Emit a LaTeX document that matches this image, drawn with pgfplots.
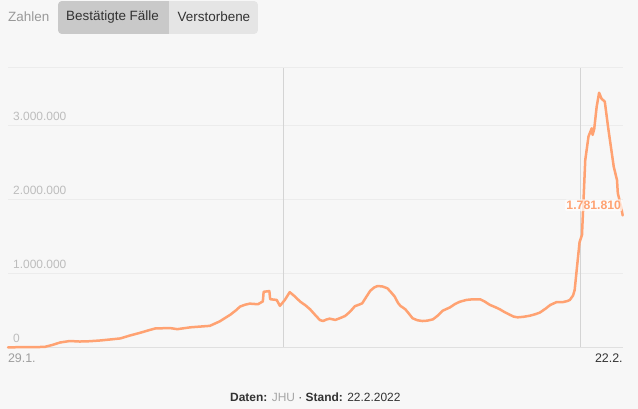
\documentclass[border=0pt]{standalone}
\usepackage{pgfplots}
\pgfplotsset{compat=1.18}
\usepackage{fontspec}
\setmainfont{Liberation Sans}
\definecolor{bg}{HTML}{F7F7F7}
\definecolor{gridc}{HTML}{ECECEC}
\definecolor{vline}{HTML}{D4D4D4}
\definecolor{tickc}{HTML}{BDBDBD}
\definecolor{linec}{HTML}{FFA272}
\definecolor{darkt}{HTML}{333333}
\definecolor{btndark}{HTML}{C9C9C9}
\definecolor{btnlight}{HTML}{E5E5E5}
\begin{document}
\begin{tikzpicture}
\fill[bg] (0bp,0bp) rectangle (638bp,409bp);
% buttons
\node[anchor=west,inner sep=0,font=\fontsize{13.5}{14}\selectfont,text=black!40] at (8bp,392bp) {Zahlen};
\begin{scope}
\clip[rounded corners=4bp] (58bp,375bp) rectangle (258bp,408bp);
\fill[btnlight] (58bp,375bp) rectangle (258bp,408bp);
\fill[btndark] (58bp,375bp) rectangle (169bp,408bp);
\end{scope}
\node[anchor=west,inner sep=0,font=\fontsize{13.5}{14}\selectfont,text=darkt] at (66bp,392bp) {Bestätigte Fälle};
\node[anchor=west,inner sep=0,font=\fontsize{13.5}{14}\selectfont,text=darkt] at (177.5bp,392bp) {Verstorbene};
\begin{axis}[
  at={(8bp,61.7bp)}, anchor=south west,
  scale only axis, width=614.7bp, height=280bp,
  xmin=0, xmax=755, ymin=0, ymax=3784000,
  scaled y ticks=false, scaled x ticks=false,
  axis line style={draw=none},
  major tick length=0pt,
  ytick={0,1000000,2000000,3000000},
  yticklabels={0,1.000.000,2.000.000,3.000.000},
  yticklabel style={anchor=south west, inner sep=0pt, xshift=5bp, yshift=4.5bp, text=tickc, font=\fontsize{12}{13}\selectfont},
  ymajorgrids=true,
  grid style={gridc, line width=1bp},
  extra y ticks={3784000}, extra y tick labels={},
  xtick={0,755},
  xticklabels={\makebox[0pt][l]{\textcolor{black!38}{29.1.}},\makebox[0pt][r]{\textcolor{darkt}{22.2.}}},
  xticklabel style={anchor=north, inner sep=0pt, yshift=-6bp, font=\fontsize{12.5}{13}\selectfont},
  extra x ticks={338,703}, extra x tick labels={},
  extra x tick style={grid=major, major grid style={vline, line width=0.9bp}},
  clip=false,
]
\draw[black!12, line width=1.2bp] (axis cs:0,0) -- (axis cs:755,0);
\addplot[linec, line width=2.5bp, line join=round, line cap=round] table {
0 0
27 2000
45 5000
54 30000
64 65000
76 85000
88 78000
100 82000
113 92000
125 105000
138 120000
150 160000
162 195000
174 234000
181 255000
199 260000
208 245000
224 270000
248 290000
260 350000
273 440000
280 500000
285 550000
291 575000
297 590000
307 582000
313 620000
314 750000
321 760000
322 650000
330 640000
334 560000
340 640000
346 745000
352 690000
359 616000
365 570000
371 514000
377 440000
383 369000
387 355000
391 375000
395 387000
402 370000
408 395000
414 423000
420 480000
426 555000
432 580000
435 594000
440 680000
445 765000
450 810000
454 828000
460 822000
466 797000
470 750000
475 684000
479 600000
482 560000
488 514000
492 460000
497 392000
503 365000
509 355000
515 360000
522 378000
528 430000
534 495000
543 540000
549 585000
555 616000
563 640000
571 649000
580 649000
586 615000
592 572000
598 545000
604 514000
610 475000
617 436000
621 415000
626 405000
633 412000
641 427000
647 445000
653 468000
660 520000
666 572000
674 612000
682 612000
687 625000
690 639000
694 700000
696 774000
699 1100000
702 1420000
705 1520000
709 2530000
713 2850000
717 2960000
718 2870000
720 2950000
723 3250000
726 3440000
729 3360000
733 3320000
737 2980000
741 2670000
744 2440000
748 2260000
749 2080000
752 1950000
755 1781810
};
\node[anchor=east, inner sep=1.5bp, fill=white, fill opacity=0.7, text opacity=1, text=linec, font=\bfseries\fontsize{12.3}{13}\selectfont, rounded corners=2bp] at (axis cs:755,1920000) {1.781.810};
\end{axis}
\node[anchor=base,inner sep=0,font=\fontsize{12}{13}\selectfont,text=darkt] at (315.3bp,8bp) {\textbf{Daten:} \textcolor{black!35}{JHU} · \textbf{Stand:} 22.2.2022};
\end{tikzpicture}
\end{document}
